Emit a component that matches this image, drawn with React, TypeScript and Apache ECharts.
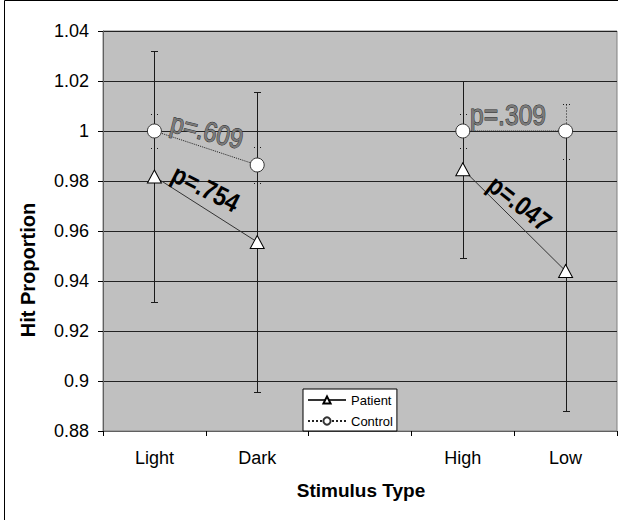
import React, { useEffect, useRef } from "react";
import * as echarts from "echarts";

const categories = ["Light", "Dark", "", "High", "Low"];
const patientMean = [0.9818, 0.9556, null, 0.9847, 0.944];
const patientErr = [0.05, 0.06, null, 0.0353, 0.056];
const controlMean = [1.0, 0.9864, null, 1.0, 1.0];
const controlErr = [0.0068, 0.0074, null, 0.0068, 0.011];
const yTicks = { min: 0.88, max: 1.04, interval: 0.02 };
const pLabels = ["p=.609", "p=.754", "p=.309", "p=.047"];

const FONT = '"Liberation Sans", Arial, sans-serif';

function errData(mean: (number | null)[], err: (number | null)[]) {
  const out: number[][] = [];
  mean.forEach((m, i) => {
    if (m != null && err[i] != null) out.push([i, m - (err[i] as number), m + (err[i] as number)]);
  });
  return out;
}

function makeErrRender(dotted: boolean) {
  return (params: any, api: any) => {
    const idx = api.value(0);
    const lo = api.coord([idx, api.value(1)]);
    const hi = api.coord([idx, api.value(2)]);
    const x = Math.round(lo[0]) + 0.5;
    const yl = Math.round(lo[1]) + 0.5;
    const yh = Math.round(hi[1]) + 0.5;
    const half = 3.5;
    const style: any = {
      stroke: "#1a1a1a",
      lineWidth: 1,
      lineDash: dotted ? [1, 2] : null,
    };
    return {
      type: "group",
      children: [
        { type: "line", shape: { x1: x, y1: yh, x2: x, y2: yl }, style },
        { type: "line", shape: { x1: x - half, y1: yh, x2: x + half, y2: yh }, style },
        { type: "line", shape: { x1: x - half, y1: yl, x2: x + half, y2: yl }, style },
      ],
    };
  };
}

export default function App() {
  const ref = useRef<HTMLDivElement>(null);
  useEffect(() => {
    if (!ref.current) return;
    const chart = echarts.init(ref.current, null, { renderer: "svg" });
    const outlined = { fill: "#7a7a7a", stroke: "#2a2a2a", lineWidth: 1 };
    const boldBlack = { fill: "#000" };
    const txt = (
      text: string,
      x: number,
      y: number,
      deg: number,
      font: string,
      extra: any,
      scaleX = 0.85
    ) => ({
      type: "text",
      x,
      y,
      rotation: (deg * Math.PI) / 180,
      scaleX,
      z: 50,
      style: {
        text,
        font,
        textAlign: "center",
        textVerticalAlign: "middle",
        align: "center",
        verticalAlign: "middle",
        ...extra,
      },
    });
    chart.setOption({
      animation: false,
      backgroundColor: "#fff",
      grid: {
        left: 103,
        top: 31,
        width: 514,
        height: 400,
        show: true,
        backgroundColor: "#c0c0c0",
        borderColor: "#808080",
        borderWidth: 1,
      },
      legend: {
        left: 303,
        top: 389,
        orient: "vertical",
        backgroundColor: "#fff",
        borderColor: "#000",
        borderWidth: 1,
        borderRadius: 0,
        padding: [4, 4, 3, 4],
        itemGap: 7,
        itemWidth: 38,
        itemHeight: 9,
        textStyle: { fontFamily: FONT, fontSize: 13, color: "#000", lineHeight: 14 },
        data: ["Patient", "Control"],
      },
      xAxis: {
        type: "category",
        data: categories,
        boundaryGap: true,
        axisLine: { lineStyle: { color: "#606060" } },
        axisTick: { show: true, length: 5, lineStyle: { color: "#000" } },
        axisLabel: { color: "#000", fontFamily: FONT, fontSize: 18, margin: 18 },
        splitLine: { show: false },
      },
      yAxis: {
        type: "value",
        min: yTicks.min,
        max: yTicks.max,
        interval: yTicks.interval,
        axisLine: { show: true, lineStyle: { color: "#606060" } },
        axisTick: { show: true, length: 5, lineStyle: { color: "#000" } },
        axisLabel: { color: "#000", fontFamily: FONT, fontSize: 18, margin: 14 },
        splitLine: { show: true, lineStyle: { color: "#222", width: 1 } },
      },
      series: [
        {
          type: "custom",
          name: "patientErr",
          renderItem: makeErrRender(false),
          data: errData(patientMean, patientErr),
          z: 1,
          silent: true,
        },
        {
          type: "custom",
          name: "controlErr",
          renderItem: makeErrRender(true),
          data: errData(controlMean, controlErr),
          z: 1,
          silent: true,
        },
        {
          name: "Control",
          type: "line",
          data: controlMean.map((v) => (v == null ? "-" : v)),
          connectNulls: false,
          symbol: "circle",
          symbolSize: 14,
          lineStyle: { color: "#222", width: 1, type: "dotted" },
          itemStyle: { color: "#fff", borderColor: "#333", borderWidth: 1 },
          z: 3,
        },
        {
          name: "Patient",
          type: "line",
          data: patientMean.map((v) => (v == null ? "-" : v)),
          connectNulls: false,
          symbol: "triangle",
          symbolSize: [14, 13],
          lineStyle: { color: "#333", width: 1, type: "solid" },
          itemStyle: { color: "#fff", borderColor: "#000", borderWidth: 1 },
          z: 4,
        },
      ],
      graphic: [
        {
          type: "rect",
          shape: { x: 4.5, y: 0.5, width: 700, height: 600 },
          style: { fill: null, stroke: "#000", lineWidth: 1 },
          z: 100,
          silent: true,
        },
        txt("Hit Proportion", 28, 270, 90, `bold 20px ${FONT}`, { fill: "#000" }, 1),
        txt("Stimulus Type", 361, 490, 0, `bold 19px ${FONT}`, { fill: "#000" }, 1),
        txt(pLabels[0], 207, 131, -14, `28px ${FONT}`, outlined),
        txt(pLabels[1], 206, 188, -27, `bold 27px ${FONT}`, boldBlack),
        txt(pLabels[2], 508, 115, 0, `29px ${FONT}`, outlined),
        txt(pLabels[3], 520, 203, -38, `bold 27px ${FONT}`, boldBlack),
      ],
    });
    return () => chart.dispose();
  }, []);
  return (
    <div
      ref={ref}
      style={{ position: "fixed", left: 0, top: 0, width: 618, height: 520 }}
    />
  );
}
